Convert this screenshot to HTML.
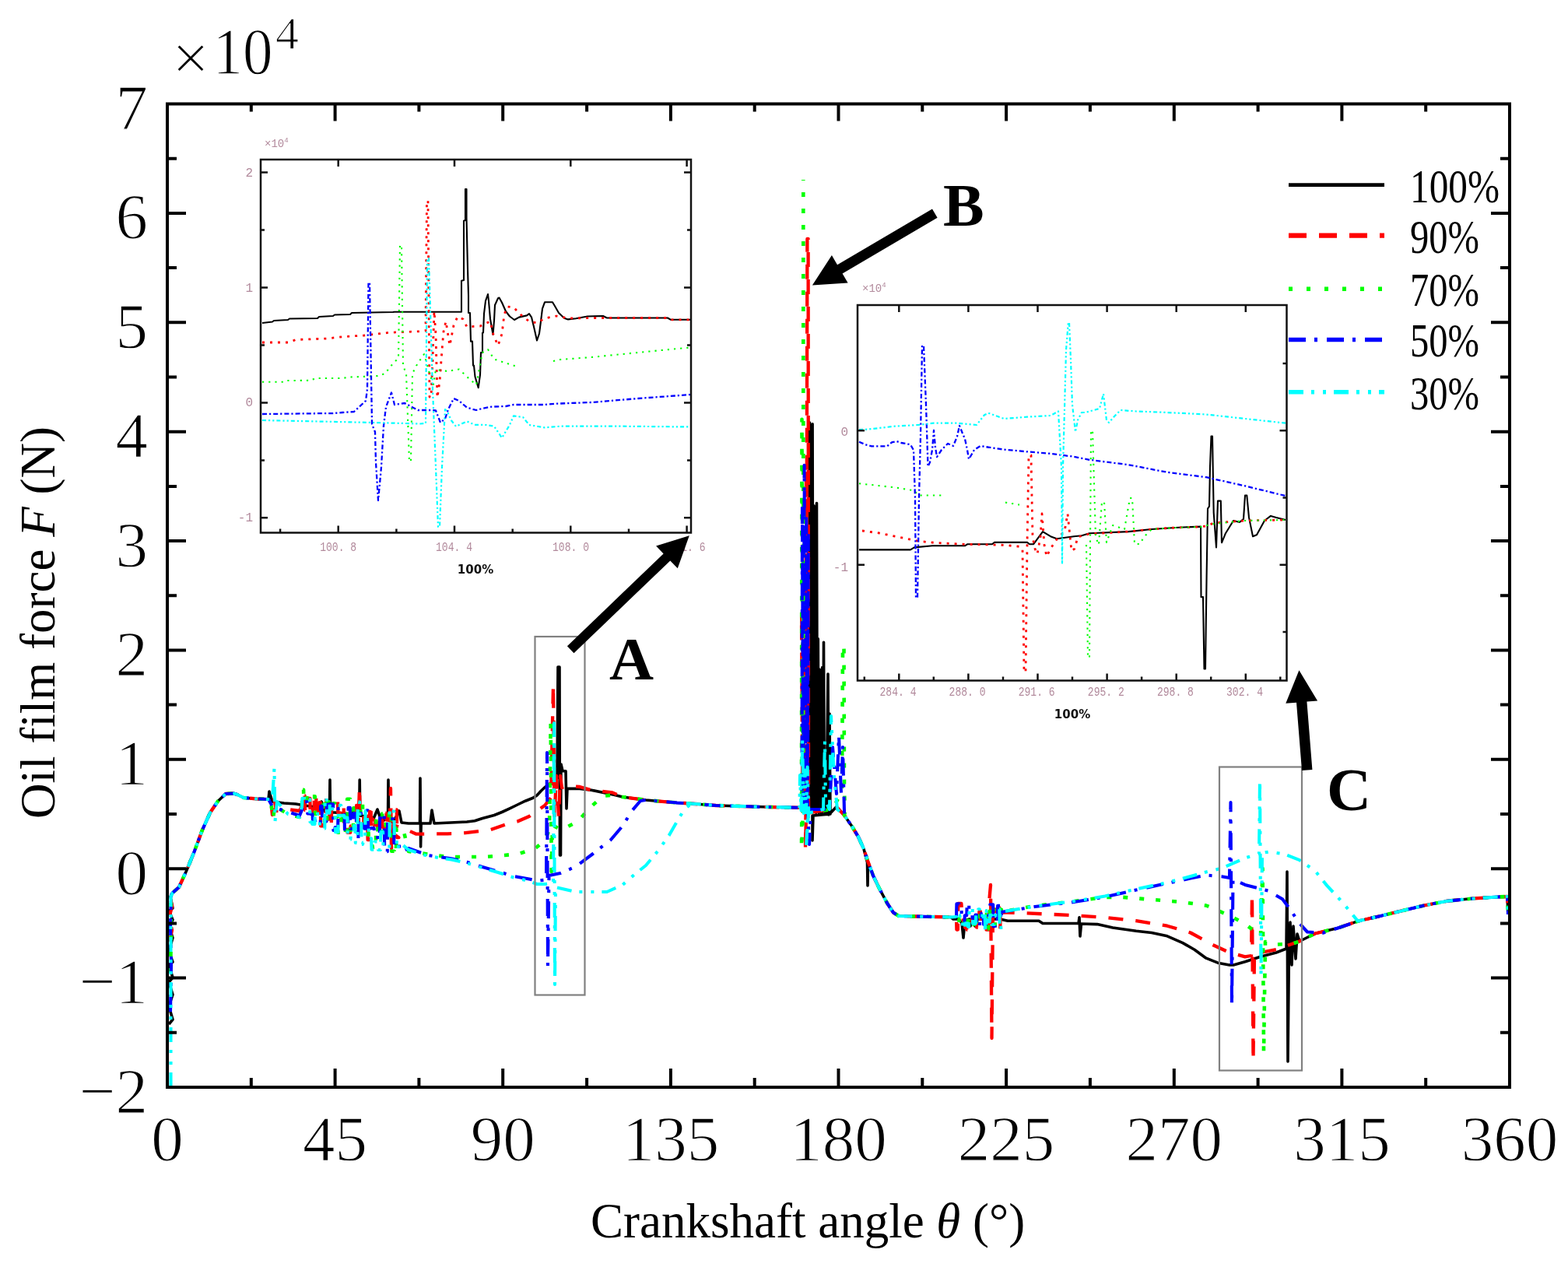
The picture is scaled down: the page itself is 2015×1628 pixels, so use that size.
<!DOCTYPE html><html><head><meta charset="utf-8"><title>Oil film force vs crankshaft angle</title>
<style>html,body{margin:0;padding:0;background:#fff;}svg{display:block;}</style></head><body>
<svg width="2015" height="1628" viewBox="0 0 2015 1628">
<rect x="0" y="0" width="2015" height="1628" fill="#fff"/>
<defs><clipPath id="cm"><rect x="215" y="133.5" width="1725" height="1263.5"/></clipPath><clipPath id="ca"><rect x="335" y="205" width="553" height="479.5"/></clipPath><clipPath id="cc"><rect x="1102" y="392" width="551.5" height="482.5"/></clipPath></defs>
<g clip-path="url(#cm)" stroke-linecap="butt">
<path d="M217.0,1316.0 L222.0,1310.0 L217.0,1293.0 L222.0,1278.0 L217.0,1262.0 L222.0,1256.0 L217.0,1240.0 L222.0,1236.0 L217.0,1222.0 L222.0,1205.0 L217.0,1190.0 L222.0,1182.0 L217.0,1170.0 L222.0,1167.0 L219.0,1152.0 L222.0,1147.0 L230.0,1140.0 L240.0,1118.0 L250.0,1093.4 L260.0,1066.4 L270.0,1044.3 L280.0,1029.5 L290.0,1020.0 L300.0,1019.5 L305.0,1021.0 L313.0,1025.0 L330.0,1026.5 L345.0,1027.0 L346.0,1017.0 L350.0,1030.0 L365.0,1032.0 L380.0,1033.0 L392.0,1035.0 L405.0,1037.0 L410.0,1040.0 L413.0,1030.0 L418.0,1043.0 L423.5,1042.0 L424.0,1002.0 L424.6,1044.0 L430.0,1044.0 L450.0,1045.7 L455.0,1040.0 L460.0,1047.0 L461.7,1047.0 L462.2,1002.0 L462.8,1048.0 L470.0,1049.0 L480.0,1052.0 L485.0,1040.0 L490.0,1055.0 L498.5,1052.0 L499.0,1002.0 L499.6,1054.0 L505.0,1057.0 L513.0,1042.0 L516.0,1057.0 L525.0,1058.0 L539.5,1058.0 L540.0,1000.0 L540.6,1088.0 L541.2,1058.0 L553.0,1058.0 L555.0,1041.0 L558.0,1058.0 L600.0,1056.0 L610.0,1054.7 L620.0,1051.5 L635.0,1047.5 L645.0,1043.5 L655.0,1038.8 L665.0,1034.0 L675.0,1029.2 L685.0,1025.3 L690.0,1022.0 L695.0,1016.5 L700.0,1011.8 L705.0,1007.8 L712.0,1004.0 L716.0,1000.0 L717.0,857.0 L719.0,857.0 L719.5,1099.0 L720.5,1099.0 L721.0,982.0 L723.0,990.7 L727.0,990.7 L728.0,1039.0 L729.0,1013.4 L745.0,1013.4 L760.0,1015.3 L790.0,1021.4 L800.0,1024.0 L830.0,1028.0 L870.0,1031.5 L880.0,1032.0 L920.0,1035.0 L980.0,1036.8 L1025.0,1037.7 L1040.0,1038.0 L1040.5,543.0 L1041.4,1042.5 L1042.3,557.7 L1043.2,1041.7 L1044.1,544.7 L1045.0,1042.7 L1045.9,649.8 L1046.8,1042.1 L1047.7,666.3 L1048.6,1044.3 L1049.5,646.5 L1050.4,1040.4 L1051.3,820.9 L1052.2,1044.5 L1053.1,860.1 L1054.0,1038.3 L1054.9,878.8 L1055.8,1045.7 L1056.7,857.5 L1057.6,1042.9 L1058.5,825.2 L1059.4,1038.1 L1060.0,1044.0 L1062.0,1046.0 L1064.0,866.0 L1065.0,1047.0 L1066.0,917.0 L1067.0,1046.0 L1044.0,1048.0 L1044.0,1080.0 L1045.0,1048.0 L1066.0,1046.0 L1075.0,1036.6 L1085.0,1047.6 L1095.0,1062.0 L1103.0,1075.3 L1110.0,1090.8 L1114.5,1108.0 L1115.0,1138.0 L1115.5,1108.0 L1115.0,1106.0 L1122.0,1125.0 L1130.0,1141.6 L1140.0,1160.4 L1148.0,1172.6 L1155.0,1177.0 L1222.0,1178.5 L1225.0,1181.0 L1232.0,1181.0 L1236.0,1186.0 L1238.0,1205.0 L1240.0,1183.0 L1246.0,1181.0 L1247.0,1190.0 L1248.0,1181.0 L1252.0,1181.0 L1253.0,1190.0 L1254.0,1181.0 L1285.0,1181.0 L1295.0,1183.2 L1335.0,1183.2 L1340.0,1186.5 L1386.0,1186.5 L1387.0,1178.8 L1388.0,1203.0 L1389.5,1187.0 L1410.0,1187.6 L1430.0,1192.0 L1460.0,1196.3 L1480.0,1198.5 L1500.0,1202.8 L1520.0,1211.6 L1535.0,1220.3 L1550.0,1231.2 L1565.0,1237.2 L1580.0,1239.9 L1585.0,1239.9 L1600.0,1235.8 L1620.0,1229.3 L1640.0,1224.0 L1653.0,1219.0 L1654.0,1120.0 L1655.0,1364.0 L1656.5,1218.0 L1658.0,1185.0 L1660.0,1240.0 L1662.0,1190.0 L1665.0,1232.0 L1667.0,1200.0 L1670.0,1209.5 L1690.0,1199.5 L1720.0,1192.3 L1745.0,1183.6 L1770.0,1177.9 L1800.0,1170.7 L1830.0,1163.5 L1860.0,1157.7 L1890.0,1154.8 L1920.0,1152.7 L1937.0,1152.0 L1938.0,1175.0" fill="none" stroke="#000" stroke-width="3.6" stroke-linejoin="round"/>
<path d="M218.0,1210.0 L221.0,1195.0 L217.0,1180.0 L221.0,1165.0 L218.0,1150.0 L222.0,1147.0 L230.0,1140.0 L240.0,1118.0 L250.0,1093.4 L260.0,1066.4 L270.0,1044.3 L280.0,1029.5 L290.0,1020.0 L300.0,1019.5 L305.0,1021.0 L313.0,1025.0 L330.0,1026.5 L345.0,1027.0 L348.0,1030.0 L350.0,1047.0 L352.0,1024.0 L355.0,1042.0 L370.0,1040.0 L385.0,1042.0 L388.0,1035.0 L388.4,1022.5 L391.6,1022.5 L392.0,1041.0 L394.5,1041.0 L394.9,1025.9 L398.4,1025.9 L398.8,1049.7 L401.4,1049.7 L401.8,1039.1 L403.6,1039.1 L404.0,1020.4 L406.2,1020.4 L406.6,1043.7 L408.0,1043.7 L408.4,1052.3 L410.1,1052.3 L410.5,1031.1 L411.8,1031.1 L412.2,1061.4 L415.5,1061.4 L415.9,1057.5 L418.8,1057.5 L419.2,1024.6 L421.3,1024.6 L421.7,1043.8 L423.2,1043.8 L423.6,1062.7 L425.8,1062.7 L426.2,1030.6 L429.7,1030.6 L430.1,1030.0 L434.0,1030.0 L434.4,1044.6 L437.2,1044.6 L437.6,1040.5 L440.1,1040.5 L440.5,1034.4 L441.7,1034.4 L442.1,1064.1 L443.9,1064.1 L444.3,1061.0 L446.1,1061.0 L446.5,1069.8 L450.2,1069.8 L450.6,1061.5 L454.0,1061.5 L454.4,1054.7 L457.7,1054.7 L458.1,1034.9 L460.7,1034.9 L461.1,1067.8 L462.8,1067.8 L463.2,1072.9 L466.9,1072.9 L467.3,1050.3 L469.5,1050.3 L469.9,1052.9 L472.2,1052.9 L472.6,1079.2 L474.8,1079.2 L475.2,1034.2 L476.6,1034.2 L477.0,1067.5 L481.1,1067.5 L481.5,1058.0 L484.1,1058.0 L484.5,1061.2 L487.8,1061.2 L488.2,1045.9 L491.1,1045.9 L491.5,1063.0 L494.5,1063.0 L494.9,1044.8 L496.5,1044.8 L496.9,1053.6 L500.8,1053.6 L501.2,1054.2 L504.1,1054.2 L504.5,1052.4 L505.9,1052.4 L506.3,1040.5 L509.8,1040.5 L510.2,1076.2 L512.5,1076.2 L461.0,1040.0 L462.0,1012.0 L463.0,1060.0 L501.0,1050.0 L502.0,1013.0 L503.0,1090.0 L505.0,1060.0 L520.0,1065.0 L535.0,1071.7 L575.0,1071.3 L590.0,1071.0 L615.0,1068.2 L630.0,1066.2 L650.0,1059.4 L665.0,1055.5 L680.0,1049.0 L690.0,1042.0 L700.0,1035.0 L708.0,1025.0 L711.0,880.0 L712.5,1050.0 L715.0,997.0 L718.0,1049.0 L720.0,997.0 L722.0,1012.0 L730.0,1009.8 L745.0,1011.0 L760.0,1015.3 L787.0,1018.4 L800.0,1024.0 L830.0,1028.0 L870.0,1031.5 L880.0,1032.0 L920.0,1035.0 L980.0,1036.8 L1025.0,1037.7 L1030.0,1038.0 L1036.0,1040.0 L1037.4,307.0 L1038.6,307.0 L1039.0,1040.0 L1030.0,789.8 L1031.5,1046.3 L1033.0,866.6 L1034.5,1042.1 L1036.0,604.3 L1037.5,1044.0 L1039.0,709.6 L1035.0,1090.0 L1036.0,1045.0 L1066.0,1040.0 L1075.0,1036.6 L1085.0,1047.6 L1095.0,1062.0 L1103.0,1075.3 L1110.0,1090.8 L1115.0,1106.0 L1122.0,1125.0 L1130.0,1141.6 L1140.0,1160.4 L1148.0,1172.6 L1155.0,1177.0 L1222.0,1178.5 L1229.0,1178.0 L1229.4,1194.5 L1230.9,1194.5 L1231.3,1160.9 L1235.4,1160.9 L1235.8,1166.6 L1237.3,1166.6 L1237.7,1183.5 L1239.8,1183.5 L1240.2,1192.0 L1242.0,1192.0 L1242.4,1194.5 L1244.5,1194.5 L1244.9,1181.6 L1248.8,1181.6 L1249.2,1184.7 L1253.0,1184.7 L1253.4,1185.5 L1254.7,1185.5 L1255.1,1191.7 L1258.0,1191.7 L1258.4,1171.2 L1260.0,1171.2 L1260.4,1190.6 L1263.3,1190.6 L1263.7,1193.8 L1267.1,1193.8 L1267.5,1194.6 L1270.3,1194.6 L1270.7,1185.1 L1273.6,1185.1 L1274.0,1169.3 L1278.0,1169.3 L1278.4,1171.2 L1281.8,1171.2 L1282.2,1194.4 L1285.3,1194.4 L1285.7,1165.1 L1289.3,1165.1 L1270.0,1172.0 L1273.0,1137.0 L1274.5,1334.0 L1276.0,1172.0 L1285.0,1172.3 L1320.0,1173.4 L1380.0,1176.2 L1420.0,1178.8 L1460.0,1183.2 L1500.0,1189.7 L1530.0,1198.5 L1550.0,1209.4 L1560.0,1214.8 L1580.0,1224.0 L1600.0,1229.3 L1608.0,1228.0 L1609.0,1150.0 L1610.5,1363.0 L1612.0,1226.0 L1620.0,1224.0 L1640.0,1220.0 L1660.0,1213.0 L1670.0,1209.5 L1690.0,1199.5 L1720.0,1192.3 L1745.0,1183.6 L1770.0,1177.9 L1800.0,1170.7 L1830.0,1163.5 L1860.0,1157.7 L1890.0,1154.8 L1920.0,1152.7 L1937.0,1152.0 L1938.0,1175.0" fill="none" stroke="#ff0000" stroke-width="4.3" stroke-dasharray="19 16" stroke-linejoin="round"/>
<path d="M219.0,1250.0 L220.0,1200.0 L219.5,1152.0 L222.0,1147.0 L230.0,1140.0 L240.0,1118.0 L250.0,1093.4 L260.0,1066.4 L270.0,1044.3 L280.0,1029.5 L290.0,1020.0 L300.0,1019.5 L305.0,1021.0 L313.0,1025.0 L330.0,1026.5 L345.0,1027.0 L348.0,1030.0 L351.0,1052.0 L353.0,1036.0 L370.0,1046.0 L385.0,1050.0 L388.0,1033.8 L388.4,1014.8 L390.1,1014.8 L390.5,1030.1 L394.1,1030.1 L394.5,1021.1 L396.2,1021.1 L396.6,1025.5 L400.5,1025.5 L400.9,1023.4 L404.7,1023.4 L405.1,1045.9 L406.8,1045.9 L407.2,1041.4 L410.1,1041.4 L410.5,1037.3 L415.2,1037.3 L415.6,1024.8 L416.9,1024.8 L417.3,1062.1 L420.0,1062.1 L420.4,1030.3 L422.8,1030.3 L423.2,1038.4 L427.8,1038.4 L428.2,1032.4 L430.2,1032.4 L430.6,1050.7 L433.8,1050.7 L434.2,1069.7 L438.3,1069.7 L438.7,1041.8 L440.7,1041.8 L441.1,1066.7 L445.8,1066.7 L446.2,1026.7 L450.0,1026.7 L450.4,1072.0 L453.9,1072.0 L454.3,1038.3 L458.3,1038.3 L458.7,1067.7 L460.7,1067.7 L461.1,1063.6 L463.1,1063.6 L463.5,1030.8 L465.9,1030.8 L466.3,1048.1 L469.0,1048.1 L469.4,1066.9 L473.5,1066.9 L473.9,1086.9 L478.6,1086.9 L479.0,1091.0 L482.9,1091.0 L483.3,1051.0 L485.2,1051.0 L485.6,1071.0 L488.8,1071.0 L489.2,1075.2 L490.8,1075.2 L491.2,1045.5 L495.6,1045.5 L496.0,1072.6 L499.7,1072.6 L500.1,1040.7 L502.8,1040.7 L503.2,1093.8 L506.7,1093.8 L507.1,1098.6 L509.0,1098.6 L509.4,1064.4 L513.5,1064.4 L513.9,1063.8 L517.8,1063.8 L525.0,1094.0 L575.0,1101.0 L604.0,1101.0 L625.0,1101.0 L648.0,1099.0 L667.0,1097.0 L688.0,1090.0 L700.0,1080.0 L706.0,1066.0 L707.7,929.0 L708.7,1120.0 L710.0,1060.0 L720.0,1066.0 L730.0,1062.0 L743.0,1055.0 L758.0,1038.0 L775.0,1022.7 L790.0,1021.4 L800.0,1024.0 L830.0,1028.0 L870.0,1031.5 L880.0,1032.0 L920.0,1035.0 L980.0,1036.8 L1025.0,1037.7 L1031.5,1038.0 L1030.0,1040.0 L1030.5,538.7 L1031.7,1042.7 L1032.9,651.6 L1030.0,1090.0 L1032.0,1045.0 L1070.0,1040.0 L1082.0,1016.0 L1083.0,829.5 L1084.5,829.5 L1085.0,1016.0 L1086.0,1043.0 L1085.0,1047.6 L1095.0,1062.0 L1103.0,1075.3 L1110.0,1090.8 L1115.0,1106.0 L1122.0,1125.0 L1130.0,1141.6 L1140.0,1160.4 L1148.0,1172.6 L1155.0,1177.0 L1222.0,1178.5 L1229.0,1178.0 L1229.4,1180.5 L1232.4,1180.5 L1232.8,1189.4 L1234.7,1189.4 L1235.1,1183.5 L1238.9,1183.5 L1239.3,1192.7 L1241.0,1192.7 L1241.4,1183.5 L1244.3,1183.5 L1244.7,1178.1 L1248.7,1178.1 L1249.1,1179.0 L1251.5,1179.0 L1251.9,1194.0 L1255.0,1194.0 L1255.4,1170.8 L1257.4,1170.8 L1257.8,1177.9 L1259.0,1177.9 L1259.4,1181.9 L1262.7,1181.9 L1263.1,1175.3 L1266.8,1175.3 L1267.2,1193.4 L1270.0,1193.4 L1270.4,1184.5 L1271.8,1184.5 L1272.2,1162.0 L1276.2,1162.0 L1276.6,1170.2 L1278.4,1170.2 L1278.8,1192.3 L1282.1,1192.3 L1282.5,1164.4 L1284.6,1164.4 L1285.0,1168.7 L1286.9,1168.7 L1285.0,1172.0 L1330.0,1164.0 L1380.0,1158.0 L1420.0,1153.0 L1440.0,1152.6 L1480.0,1155.9 L1520.0,1159.2 L1550.0,1163.5 L1580.0,1176.4 L1600.0,1187.0 L1620.0,1202.9 L1622.5,1115.7 L1624.0,1353.0 L1626.0,1210.0 L1640.0,1213.5 L1660.0,1213.0 L1670.0,1209.5 L1690.0,1199.5 L1720.0,1192.3 L1745.0,1183.6 L1770.0,1177.9 L1800.0,1170.7 L1830.0,1163.5 L1860.0,1157.7 L1890.0,1154.8 L1920.0,1152.7 L1937.0,1152.0 L1938.0,1175.0" fill="none" stroke="#00ff00" stroke-width="4.6" stroke-dasharray="6 15" stroke-linejoin="round"/>
<path d="M1032.3,1030.0 L1032.3,231.0" fill="none" stroke="#00ff00" stroke-width="4.6" stroke-dasharray="6 15" stroke-linejoin="round"/>
<path d="M219.0,1300.0 L220.0,1240.0 L219.0,1190.0 L220.0,1150.0 L222.0,1147.0 L230.0,1140.0 L240.0,1118.0 L250.0,1093.4 L260.0,1066.4 L270.0,1044.3 L280.0,1029.5 L290.0,1020.0 L300.0,1019.5 L305.0,1021.0 L313.0,1025.0 L330.0,1026.5 L345.0,1027.0 L350.0,1036.0 L360.0,1040.0 L385.0,1048.0 L388.0,1040.8 L388.4,1036.8 L390.3,1036.8 L390.7,1030.3 L394.9,1030.3 L395.3,1045.5 L398.7,1045.5 L399.1,1046.0 L401.5,1046.0 L401.9,1053.2 L404.9,1053.2 L405.3,1056.2 L408.7,1056.2 L409.1,1059.7 L411.7,1059.7 L412.1,1035.9 L413.7,1035.9 L414.1,1057.3 L415.9,1057.3 L416.3,1055.4 L419.5,1055.4 L419.9,1033.6 L423.6,1033.6 L424.0,1033.2 L428.0,1033.2 L428.4,1066.9 L430.2,1066.9 L430.6,1063.1 L434.2,1063.1 L434.6,1038.8 L437.9,1038.8 L438.3,1039.4 L442.5,1039.4 L442.9,1065.7 L447.2,1065.7 L447.6,1037.8 L449.8,1037.8 L450.2,1065.0 L453.4,1065.0 L453.8,1045.2 L457.8,1045.2 L458.2,1078.9 L460.4,1078.9 L460.8,1045.1 L464.1,1045.1 L464.5,1059.2 L467.8,1059.2 L468.2,1064.7 L470.7,1064.7 L471.1,1041.2 L472.7,1041.2 L473.1,1064.5 L476.6,1064.5 L477.0,1064.0 L480.6,1064.0 L481.0,1071.3 L485.0,1071.3 L485.4,1078.9 L487.7,1078.9 L488.1,1050.7 L489.5,1050.7 L489.9,1045.4 L493.8,1045.4 L494.2,1094.3 L497.8,1094.3 L498.2,1050.7 L501.6,1050.7 L502.0,1052.2 L506.0,1052.2 L506.4,1083.2 L510.0,1083.2 L510.4,1080.4 L512.9,1080.4 L513.3,1093.8 L517.6,1093.8 L525.0,1090.0 L550.0,1099.0 L580.0,1103.3 L600.0,1107.7 L620.0,1114.0 L640.0,1119.7 L660.0,1126.0 L680.0,1129.5 L690.0,1131.7 L702.0,1130.5 L703.0,967.0 L704.0,1241.0 L705.5,1125.0 L720.0,1122.0 L740.0,1113.5 L762.0,1097.0 L785.0,1079.0 L800.0,1061.4 L812.0,1042.0 L823.0,1029.0 L830.0,1028.0 L870.0,1031.5 L880.0,1032.0 L920.0,1035.0 L980.0,1036.8 L1025.0,1037.7 L1030.5,1038.0 L1031.0,649.2 L1032.3,1036.2 L1033.6,597.8 L1034.9,1037.8 L1036.2,662.8 L1037.5,1041.4 L1038.8,684.8 L1038.0,1040.0 L1040.0,1085.0 L1042.0,1040.0 L1066.0,1040.0 L1070.0,960.0 L1075.0,1020.0 L1078.0,945.0 L1081.0,1020.0 L1083.0,960.0 L1085.0,1043.0 L1085.0,1047.6 L1095.0,1062.0 L1103.0,1075.3 L1110.0,1090.8 L1115.0,1106.0 L1122.0,1125.0 L1130.0,1141.6 L1140.0,1160.4 L1148.0,1172.6 L1155.0,1177.0 L1222.0,1178.5 L1229.0,1178.0 L1229.4,1161.4 L1232.6,1161.4 L1233.0,1165.2 L1235.5,1165.2 L1235.9,1184.2 L1239.4,1184.2 L1239.8,1176.3 L1242.3,1176.3 L1242.7,1160.7 L1245.1,1160.7 L1245.5,1173.4 L1249.2,1173.4 L1249.6,1179.7 L1253.0,1179.7 L1253.4,1175.6 L1255.0,1175.6 L1255.4,1190.6 L1259.0,1190.6 L1259.4,1173.5 L1260.7,1173.5 L1261.1,1178.4 L1263.7,1178.4 L1264.1,1187.8 L1267.0,1187.8 L1267.4,1178.2 L1270.3,1178.2 L1270.7,1173.6 L1271.9,1173.6 L1272.3,1162.2 L1276.2,1162.2 L1276.6,1190.2 L1278.6,1190.2 L1279.0,1192.0 L1281.7,1192.0 L1282.1,1163.7 L1285.7,1163.7 L1286.1,1181.0 L1290.0,1181.0 L1285.0,1172.3 L1330.0,1165.0 L1380.0,1159.0 L1420.0,1152.5 L1460.0,1143.5 L1500.0,1135.0 L1530.0,1128.5 L1550.0,1124.5 L1570.0,1126.3 L1580.0,1128.0 L1581.5,1031.0 L1583.0,1291.0 L1584.5,1130.0 L1600.0,1136.9 L1630.0,1144.7 L1648.0,1155.3 L1660.0,1171.1 L1668.0,1184.3 L1680.0,1197.5 L1700.0,1198.8 L1720.0,1192.3 L1745.0,1183.6 L1770.0,1177.9 L1800.0,1170.7 L1830.0,1163.5 L1860.0,1157.7 L1890.0,1154.8 L1920.0,1152.7 L1937.0,1152.0 L1938.0,1175.0" fill="none" stroke="#0000ff" stroke-width="4.1" stroke-dasharray="22 11 4 12" stroke-linejoin="round"/>
<path d="M219.5,1397.0 L219.5,1152.0 L222.0,1147.0 L230.0,1140.0 L240.0,1118.0 L250.0,1093.4 L260.0,1066.4 L270.0,1044.3 L280.0,1029.5 L290.0,1020.0 L300.0,1019.5 L305.0,1021.0 L313.0,1025.0 L330.0,1026.5 L345.0,1027.0 L350.0,1027.0 L352.5,987.0 L353.5,1055.0 L356.0,1030.0 L370.0,1046.0 L385.0,1050.0 L388.0,1035.8 L388.4,1025.8 L391.0,1025.8 L391.4,1023.2 L395.0,1023.2 L395.4,1027.1 L398.1,1027.1 L398.5,1056.3 L400.8,1056.3 L401.2,1059.0 L404.5,1059.0 L404.9,1043.1 L407.9,1043.1 L408.3,1045.9 L410.5,1045.9 L410.9,1064.1 L413.2,1064.1 L413.6,1064.6 L417.3,1064.6 L417.7,1024.3 L419.5,1024.3 L419.9,1044.6 L423.5,1044.6 L423.9,1032.0 L426.8,1032.0 L427.2,1041.5 L430.7,1041.5 L431.1,1069.1 L434.5,1069.1 L434.9,1034.9 L438.2,1034.9 L438.6,1047.9 L442.3,1047.9 L442.7,1050.6 L446.5,1050.6 L446.9,1078.7 L450.4,1078.7 L450.8,1071.9 L454.4,1071.9 L454.8,1060.8 L456.4,1060.8 L456.8,1083.0 L459.3,1083.0 L459.7,1030.6 L462.1,1030.6 L462.5,1053.5 L464.2,1053.5 L464.6,1084.9 L466.1,1084.9 L466.5,1082.5 L469.2,1082.5 L469.6,1042.0 L471.8,1042.0 L472.2,1058.5 L473.6,1058.5 L474.0,1077.4 L477.1,1077.4 L477.5,1091.7 L481.1,1091.7 L481.5,1081.5 L485.6,1081.5 L486.0,1092.0 L489.0,1092.0 L489.4,1068.8 L492.1,1068.8 L492.5,1087.0 L496.4,1087.0 L496.8,1089.6 L500.4,1089.6 L500.8,1038.3 L503.1,1038.3 L503.5,1042.5 L506.4,1042.5 L506.8,1074.3 L509.6,1074.3 L510.0,1091.8 L511.7,1091.8 L512.1,1083.5 L515.0,1083.5 L525.0,1092.0 L550.0,1100.0 L580.0,1104.5 L600.0,1109.0 L620.0,1115.0 L640.0,1121.0 L660.0,1127.5 L680.0,1132.0 L690.0,1136.0 L700.0,1136.0 L711.0,1135.0 L712.0,929.0 L713.0,1265.0 L714.0,1140.0 L740.0,1146.0 L780.0,1146.0 L800.0,1137.0 L815.0,1124.0 L830.0,1112.0 L845.0,1094.0 L860.0,1073.0 L870.0,1055.5 L880.0,1039.0 L887.0,1034.0 L880.0,1032.0 L920.0,1035.0 L980.0,1036.8 L1025.0,1037.7 L1027.5,1038.0 L1028.0,996.1 L1029.6,1041.4 L1031.2,950.6 L1032.8,1044.9 L1034.4,989.5 L1036.0,1044.3 L1037.6,985.5 L1039.2,1042.3 L1036.0,1090.0 L1038.0,1045.0 L1058.0,1040.0 L1060.0,952.0 L1061.0,1030.0 L1066.0,1040.0 L1068.0,920.0 L1072.0,1000.0 L1076.0,1040.0 L1085.0,1047.6 L1095.0,1062.0 L1103.0,1075.3 L1110.0,1090.8 L1115.0,1106.0 L1122.0,1125.0 L1130.0,1141.6 L1140.0,1160.4 L1148.0,1172.6 L1155.0,1177.0 L1222.0,1178.5 L1229.0,1178.0 L1229.4,1182.2 L1233.2,1182.2 L1233.6,1176.4 L1236.8,1176.4 L1237.2,1193.7 L1239.9,1193.7 L1240.3,1186.4 L1243.6,1186.4 L1244.0,1190.9 L1245.2,1190.9 L1245.6,1166.1 L1249.7,1166.1 L1250.1,1186.9 L1251.9,1186.9 L1252.3,1186.7 L1253.9,1186.7 L1254.3,1173.0 L1256.8,1173.0 L1257.2,1168.2 L1258.7,1168.2 L1259.1,1178.3 L1262.1,1178.3 L1262.5,1171.5 L1265.6,1171.5 L1266.0,1195.4 L1267.3,1195.4 L1267.7,1170.0 L1269.0,1170.0 L1269.4,1184.4 L1271.8,1184.4 L1272.2,1175.8 L1274.0,1175.8 L1274.4,1188.0 L1277.8,1188.0 L1278.2,1176.1 L1281.8,1176.1 L1282.2,1168.3 L1284.3,1168.3 L1284.7,1194.5 L1286.5,1194.5 L1285.0,1172.0 L1330.0,1164.5 L1380.0,1158.0 L1420.0,1151.5 L1460.0,1142.5 L1500.0,1134.0 L1530.0,1126.0 L1550.0,1120.5 L1570.0,1115.7 L1600.0,1102.5 L1618.0,1097.0 L1619.0,1003.6 L1620.5,1254.0 L1622.0,1096.0 L1630.0,1094.6 L1650.0,1097.3 L1670.0,1105.1 L1690.0,1118.9 L1705.0,1137.6 L1725.0,1159.2 L1738.0,1175.0 L1745.0,1183.6 L1770.0,1177.9 L1800.0,1170.7 L1830.0,1163.5 L1860.0,1157.7 L1890.0,1154.8 L1920.0,1152.7 L1937.0,1152.0 L1938.0,1175.0" fill="none" stroke="#00ffff" stroke-width="4.1" stroke-dasharray="19 10 4 11 4 10" stroke-linejoin="round"/>
</g>
<g stroke="#000" stroke-width="4" fill="none">
<rect x="215" y="133.5" width="1725" height="1263.5"/>
<path d="M322.8,1397.0v-12M322.8,133.5v10M430.6,1397.0v-24M430.6,133.5v22M538.4,1397.0v-12M538.4,133.5v10M646.2,1397.0v-24M646.2,133.5v22M754.1,1397.0v-12M754.1,133.5v10M861.9,1397.0v-24M861.9,133.5v22M969.7,1397.0v-12M969.7,133.5v10M1077.5,1397.0v-24M1077.5,133.5v22M1185.3,1397.0v-12M1185.3,133.5v10M1293.1,1397.0v-24M1293.1,133.5v22M1400.9,1397.0v-12M1400.9,133.5v10M1508.8,1397.0v-24M1508.8,133.5v22M1616.6,1397.0v-12M1616.6,133.5v10M1724.4,1397.0v-24M1724.4,133.5v22M1832.2,1397.0v-12M1832.2,133.5v10M215.0,1326.8h12M1940.0,1326.8h-12M215.0,1256.6h24M1940.0,1256.6h-24M215.0,1186.4h12M1940.0,1186.4h-12M215.0,1116.2h24M1940.0,1116.2h-24M215.0,1046.0h12M1940.0,1046.0h-12M215.0,975.8h24M1940.0,975.8h-24M215.0,905.6h12M1940.0,905.6h-12M215.0,835.4h24M1940.0,835.4h-24M215.0,765.2h12M1940.0,765.2h-12M215.0,695.1h24M1940.0,695.1h-24M215.0,624.9h12M1940.0,624.9h-12M215.0,554.7h24M1940.0,554.7h-24M215.0,484.5h12M1940.0,484.5h-12M215.0,414.3h24M1940.0,414.3h-24M215.0,344.1h12M1940.0,344.1h-12M215.0,273.9h24M1940.0,273.9h-24M215.0,203.7h12M1940.0,203.7h-12"/>
</g>
<g font-family="Liberation Serif, serif" font-size="83" fill="#000" stroke="#fff" stroke-width="1.3">
<text x="215.0" y="1491" text-anchor="middle">0</text>
<text x="430.6" y="1491" text-anchor="middle">45</text>
<text x="646.2" y="1491" text-anchor="middle">90</text>
<text x="861.9" y="1491" text-anchor="middle">135</text>
<text x="1077.5" y="1491" text-anchor="middle">180</text>
<text x="1293.1" y="1491" text-anchor="middle">225</text>
<text x="1508.8" y="1491" text-anchor="middle">270</text>
<text x="1724.4" y="1491" text-anchor="middle">315</text>
<text x="1940.0" y="1491" text-anchor="middle">360</text>
<text x="190" y="1429.5" text-anchor="end">−2</text>
<text x="190" y="1289.1" text-anchor="end">−1</text>
<text x="190" y="1148.7" text-anchor="end">0</text>
<text x="190" y="1008.3" text-anchor="end">1</text>
<text x="190" y="867.9" text-anchor="end">2</text>
<text x="190" y="727.6" text-anchor="end">3</text>
<text x="190" y="587.2" text-anchor="end">4</text>
<text x="190" y="446.8" text-anchor="end">5</text>
<text x="190" y="306.4" text-anchor="end">6</text>
<text x="190" y="166.0" text-anchor="end">7</text>
</g>
<g font-family="Liberation Serif, serif" fill="#000" stroke="#fff" stroke-width="1.3"><text x="221" y="103" font-size="85">×</text><text x="273.5" y="95" font-size="85" textLength="77" lengthAdjust="spacingAndGlyphs">10</text><text x="354" y="63" font-size="60">4</text></g>
<text x="759" y="1590" font-family="Liberation Serif, serif" font-size="63" fill="#000">Crankshaft angle <tspan font-style="italic">θ</tspan> (°)</text>
<text transform="translate(70,800) rotate(-90)" text-anchor="middle" font-family="Liberation Serif, serif" font-size="63" fill="#000">Oil film force <tspan font-style="italic">F</tspan> (N)</text>
<path d="M1656,237.6H1779" stroke="#000" stroke-width="4.6" fill="none"/>
<text x="1812" y="259.6" font-family="Liberation Serif, serif" font-size="61" textLength="115" lengthAdjust="spacingAndGlyphs" fill="#000">100%</text>
<path d="M1656,302.7H1779" stroke="#ff0000" stroke-width="6.2" stroke-dasharray="23 16" fill="none"/>
<text x="1812" y="324.7" font-family="Liberation Serif, serif" font-size="61" textLength="89" lengthAdjust="spacingAndGlyphs" fill="#000">90%</text>
<path d="M1656,371.2H1779" stroke="#00ff00" stroke-width="5.5" stroke-dasharray="5 18" fill="none"/>
<text x="1812" y="393.2" font-family="Liberation Serif, serif" font-size="61" textLength="89" lengthAdjust="spacingAndGlyphs" fill="#000">70%</text>
<path d="M1656,436.4H1779" stroke="#0000ff" stroke-width="5.5" stroke-dasharray="22 11 4 12" fill="none"/>
<text x="1812" y="458.4" font-family="Liberation Serif, serif" font-size="61" textLength="89" lengthAdjust="spacingAndGlyphs" fill="#000">50%</text>
<path d="M1656,503.8H1779" stroke="#00ffff" stroke-width="5.5" stroke-dasharray="19 10 4 11 4 10" fill="none"/>
<text x="1812" y="525.8" font-family="Liberation Serif, serif" font-size="61" textLength="89" lengthAdjust="spacingAndGlyphs" fill="#000">30%</text>
<rect x="687.5" y="818" width="64" height="460.5" fill="none" stroke="#808080" stroke-width="2.2"/>
<rect x="1567" y="985.5" width="106" height="390" fill="none" stroke="#808080" stroke-width="2.2"/>
<rect x="335" y="205" width="553" height="479.5" fill="#fff"/>
<g clip-path="url(#ca)">
<path d="M337.0,415.0 L350.0,413.5 L352.0,412.0 L370.0,411.0 L372.0,409.5 L408.0,409.0 L410.0,407.0 L428.0,406.0 L430.0,404.5 L450.0,404.0 L452.0,402.0 L505.0,401.0 L507.0,400.8 L593.0,400.8 L593.0,360.8 L596.0,360.0 L596.0,283.8 L598.0,283.0 L598.0,243.0 L599.5,243.0 L599.5,280.0 L601.0,345.0 L602.0,380.0 L602.0,402.0 L604.0,402.0 L605.0,438.6 L607.0,438.6 L608.0,469.6 L609.0,469.6 L610.5,484.0 L614.7,498.3 L617.0,481.7 L618.0,453.0 L620.0,453.0 L620.0,427.5 L621.0,427.5 L622.0,403.2 L624.0,386.6 L627.0,378.0 L628.0,386.6 L630.0,409.9 L633.5,429.8 L635.0,412.0 L636.0,392.0 L640.0,383.3 L641.5,382.5 L645.0,388.8 L650.0,400.0 L655.0,406.5 L661.0,411.0 L667.0,407.6 L677.0,405.4 L680.0,403.2 L683.0,407.6 L686.0,419.8 L690.0,437.5 L693.0,428.6 L695.0,413.0 L697.0,396.6 L700.0,388.3 L710.0,388.3 L713.0,393.3 L718.0,402.1 L725.0,408.7 L730.0,410.4 L740.0,409.3 L755.0,406.5 L775.0,406.0 L780.0,408.5 L858.0,408.5 L862.0,410.8 L888.0,410.8" fill="none" stroke="#000" stroke-width="2.1" stroke-linejoin="round"/>
<path d="M337.0,440.0 L371.0,440.0 L380.0,436.5 L420.0,435.0 L440.0,432.7 L468.0,431.0 L500.0,427.3 L540.0,425.8 L547.0,425.0 L548.5,258.0 L550.0,258.0 L552.0,510.0 L554.0,511.0 L556.0,460.0 L558.0,400.0 L560.0,430.0 L562.0,511.0 L565.0,490.0 L568.0,450.0 L570.0,426.0 L573.0,413.0 L578.0,444.0 L583.0,418.0 L588.0,407.0 L595.0,410.0 L600.0,420.0 L617.0,419.0 L630.0,413.0 L634.0,430.0 L640.0,444.0 L645.0,429.0 L648.0,404.0 L652.0,394.0 L660.0,395.0 L670.0,405.0 L680.0,413.0 L690.0,415.0 L700.0,409.0 L715.0,406.0 L730.0,409.0 L760.0,408.5 L858.0,408.5 L862.0,410.8 L888.0,410.8" fill="none" stroke="#ff0000" stroke-width="2.8" stroke-dasharray="3 7" stroke-linejoin="round"/>
<path d="M337.0,490.7 L365.0,490.7 L368.0,489.0 L400.0,488.8 L405.0,486.0 L440.0,486.0 L450.0,484.5 L470.0,483.8 L485.0,483.0 L495.0,480.0 L500.0,473.0 L504.0,468.4 L512.0,460.0 L514.0,315.0 L516.0,315.0 L518.0,470.0 L522.0,480.0 L526.0,593.0 L528.0,593.0 L530.0,480.0 L535.0,470.0 L545.0,455.0 L552.0,480.0 L557.0,494.0 L560.0,475.0 L575.0,477.0 L590.0,474.5 L600.0,484.0 L612.0,494.6 L620.0,453.0 L627.0,449.0 L635.0,461.5 L663.0,470.6" fill="none" stroke="#00ff00" stroke-width="2.1" stroke-dasharray="2.2 6" stroke-linejoin="round"/>
<path d="M711.0,464.0 L720.0,462.0 L760.0,459.0 L800.0,455.0 L850.0,450.0 L888.0,446.5" fill="none" stroke="#00ff00" stroke-width="2.1" stroke-dasharray="2.2 6" stroke-linejoin="round"/>
<path d="M337.0,532.0 L428.0,531.0 L440.0,530.0 L455.0,529.0 L470.0,515.0 L472.0,500.0 L473.5,363.0 L475.0,363.0 L478.0,545.0 L482.0,555.0 L483.0,594.0 L486.0,643.0 L490.0,600.0 L493.0,547.0 L496.0,523.0 L503.0,504.5 L507.0,520.0 L520.0,518.0 L537.0,527.0 L555.0,527.0 L560.0,527.5 L566.0,543.0 L572.0,538.0 L576.0,526.0 L583.0,512.0 L590.0,515.0 L600.0,523.7 L612.0,527.0 L620.0,524.8 L632.0,522.6 L650.0,522.0 L660.0,520.0 L700.0,520.0 L712.0,518.8 L760.0,517.0 L820.0,512.0 L888.0,507.0" fill="none" stroke="#0000ff" stroke-width="2.3" stroke-dasharray="6 3 2.2 3" stroke-linejoin="round"/>
<path d="M337.0,540.0 L480.0,543.0 L540.0,544.5 L547.0,544.0 L549.0,332.0 L551.0,332.0 L556.0,500.0 L560.0,600.0 L563.0,677.0 L565.0,677.0 L568.0,600.0 L572.0,526.0 L575.0,529.3 L580.0,540.3 L586.0,548.0 L600.0,541.4 L610.0,545.8 L625.0,546.0 L635.0,547.7 L645.0,562.6 L655.0,546.0 L660.0,534.4 L672.0,536.0 L680.0,546.0 L700.0,549.4 L720.0,547.7 L800.0,547.7 L888.0,548.5" fill="none" stroke="#00ffff" stroke-width="2.2" stroke-dasharray="5 3 2.2 3 2.2 3" stroke-linejoin="round"/>
</g>
<rect x="335" y="205" width="553" height="479.5" fill="none" stroke="#111" stroke-width="2.5"/>
<path d="M434.7,684.5v-9M434.7,205v9M360.1,684.5v-5M584.0,684.5v-9M584.0,205v9M509.4,684.5v-5M733.3,684.5v-9M733.3,205v9M658.7,684.5v-5M882.6,684.5v-9M882.6,205v9M808.0,684.5v-5M335,665.3h9M888,665.3h-9M335,591.4h5M888,591.4h-5M335,517.4h9M888,517.4h-9M335,443.4h5M888,443.4h-5M335,369.5h9M888,369.5h-9M335,295.5h5M888,295.5h-5M335,221.6h9M888,221.6h-9" stroke="#111" stroke-width="2.5" fill="none"/>
<g font-family="Liberation Mono, DejaVu Sans Mono, monospace" font-size="16" fill="#b28a9c">
<text x="411.2" y="708" textLength="47" lengthAdjust="spacingAndGlyphs">100. 8</text>
<text x="560.0" y="708" textLength="47" lengthAdjust="spacingAndGlyphs">104. 4</text>
<text x="710.0" y="708" textLength="47" lengthAdjust="spacingAndGlyphs">108. 0</text>
<text x="859.5" y="708" textLength="47" lengthAdjust="spacingAndGlyphs">111. 6</text>
<text x="325" y="226.6" text-anchor="end">2</text>
<text x="325" y="374.5" text-anchor="end">1</text>
<text x="325" y="522.4" text-anchor="end">0</text>
<text x="325" y="670.3" text-anchor="end">-1</text>
<text x="340" y="189" font-size="14">×10<tspan font-size="9" dy="-6">4</tspan></text>
</g>
<text x="611" y="737" text-anchor="middle" font-family="DejaVu Sans, sans-serif" font-size="15" font-weight="bold" fill="#111">100%</text>
<rect x="1102" y="392" width="551.5" height="482.5" fill="#fff"/>
<g clip-path="url(#cc)">
<path d="M1104.0,706.4 L1170.0,706.4 L1175.0,703.4 L1198.0,701.3 L1240.0,701.3 L1243.0,699.3 L1275.0,699.3 L1278.0,696.9 L1320.0,696.9 L1323.0,699.3 L1328.0,699.3 L1340.0,683.1 L1350.0,689.2 L1358.0,692.2 L1380.0,689.2 L1390.0,688.2 L1400.0,685.2 L1450.0,683.1 L1480.0,680.0 L1510.0,678.0 L1543.0,676.6 L1543.5,767.3 L1546.0,767.0 L1547.5,859.5 L1549.0,859.5 L1550.6,739.9 L1552.0,653.7 L1554.0,650.7 L1555.0,600.0 L1556.5,560.5 L1558.0,560.5 L1559.7,658.8 L1563.0,703.4 L1565.0,643.6 L1568.8,643.6 L1570.0,697.3 L1575.0,685.2 L1585.0,669.0 L1593.0,671.0 L1598.0,666.9 L1600.0,636.5 L1602.3,636.5 L1605.0,664.9 L1610.0,689.2 L1615.0,687.2 L1625.0,669.0 L1633.0,662.9 L1640.0,664.9 L1652.0,668.0" fill="none" stroke="#000" stroke-width="2.1" stroke-linejoin="round"/>
<path d="M1108.0,682.0 L1130.0,685.0 L1150.0,689.2 L1170.0,693.2 L1180.0,695.3 L1200.0,697.3 L1240.0,699.3 L1290.0,700.3 L1310.0,702.3 L1314.0,705.0 L1316.0,863.5 L1318.0,863.5 L1320.0,700.0 L1322.0,585.0 L1325.0,585.0 L1327.0,690.0 L1330.0,705.0 L1333.0,712.0 L1337.0,690.0 L1339.0,660.0 L1342.0,700.0 L1345.0,715.0 L1350.0,705.0 L1360.0,690.0 L1368.0,683.0 L1372.0,660.0 L1377.0,708.0 L1381.0,705.0 L1385.0,690.0 L1400.0,686.0 L1450.0,683.0 L1480.0,680.0 L1510.0,678.0 L1540.0,677.0 L1550.0,676.0 L1560.0,672.0 L1600.0,669.0 L1652.0,668.0" fill="none" stroke="#ff0000" stroke-width="2.8" stroke-dasharray="3 7" stroke-linejoin="round"/>
<path d="M1104.0,621.3 L1150.0,626.3 L1175.0,630.4 L1180.0,636.5 L1210.0,636.5 M1292.0,645.6 L1310.0,648.6" fill="none" stroke="#00ff00" stroke-width="2.1" stroke-dasharray="2.2 6" stroke-linejoin="round"/>
<path d="M1396.0,700.0 L1398.0,845.0 L1400.0,845.0 L1402.0,553.0 L1404.0,553.0 L1408.0,690.0 L1412.0,700.0 L1416.0,645.0 L1419.0,645.0 L1422.0,697.0 L1430.0,675.0 L1445.0,680.0 L1452.0,640.0 L1455.0,640.0 L1458.0,699.0 L1465.0,699.0 L1470.0,690.0 L1480.0,680.0 L1510.0,678.0 L1543.0,677.0 L1560.0,673.0 L1600.0,669.0 L1652.0,668.0" fill="none" stroke="#00ff00" stroke-width="2.1" stroke-dasharray="2.2 6" stroke-linejoin="round"/>
<path d="M1104.0,567.7 L1112.0,571.2 L1120.0,573.4 L1140.0,573.4 L1146.0,568.4 L1152.0,567.0 L1158.0,569.0 L1170.0,571.2 L1174.0,578.3 L1176.0,640.0 L1177.0,768.0 L1179.0,768.0 L1181.0,640.0 L1183.0,560.0 L1185.0,444.0 L1187.0,444.0 L1190.0,520.0 L1192.5,599.5 L1195.0,594.0 L1198.0,578.0 L1200.0,553.0 L1202.0,575.0 L1204.0,587.0 L1210.0,578.0 L1218.0,570.0 L1225.0,573.0 L1230.0,561.0 L1233.0,547.0 L1237.0,557.0 L1240.0,564.0 L1243.0,578.0 L1245.0,590.0 L1248.0,585.0 L1252.0,578.0 L1260.0,573.0 L1275.0,575.5 L1290.0,577.6 L1320.0,580.4 L1350.0,582.8 L1380.0,586.8 L1400.0,590.8 L1450.0,597.2 L1500.0,606.8 L1550.0,613.2 L1600.0,624.4 L1652.0,637.1" fill="none" stroke="#0000ff" stroke-width="2.3" stroke-dasharray="6 3 2.2 3" stroke-linejoin="round"/>
<path d="M1104.0,552.0 L1115.0,551.7 L1150.0,547.7 L1180.0,546.0 L1200.0,543.7 L1230.0,543.7 L1255.0,546.0 L1265.0,533.3 L1270.0,530.6 L1290.0,538.0 L1320.0,535.7 L1350.0,534.0 L1360.0,528.5 L1364.0,600.0 L1365.0,723.6 L1366.0,600.0 L1370.0,450.0 L1372.8,414.3 L1374.0,414.3 L1376.0,463.0 L1378.0,520.0 L1382.0,555.0 L1385.0,539.7 L1390.0,530.0 L1395.0,530.0 L1400.0,528.5 L1413.0,525.0 L1418.0,506.0 L1422.0,540.0 L1425.0,543.0 L1432.0,535.0 L1440.0,527.0 L1460.0,528.5 L1500.0,530.0 L1550.0,532.5 L1600.0,538.0 L1652.0,543.7" fill="none" stroke="#00ffff" stroke-width="2.2" stroke-dasharray="5 3 2.2 3 2.2 3" stroke-linejoin="round"/>
</g>
<rect x="1102" y="392" width="551.5" height="482.5" fill="none" stroke="#111" stroke-width="2.5"/>
<path d="M1155.3,874.5v-9M1155.3,392v9M1110.8,874.5v-5M1244.4,874.5v-9M1244.4,392v9M1199.8,874.5v-5M1333.5,874.5v-9M1333.5,392v9M1289.0,874.5v-5M1422.6,874.5v-9M1422.6,392v9M1378.0,874.5v-5M1511.7,874.5v-9M1511.7,392v9M1467.1,874.5v-5M1600.8,874.5v-9M1600.8,392v9M1556.2,874.5v-5M1645.3,874.5v-5M1653.5,811.9h-5M1102,725.7h9M1653.5,725.7h-9M1653.5,639.5h-5M1102,553.3h9M1653.5,553.3h-9M1653.5,467.1h-5" stroke="#111" stroke-width="2.5" fill="none"/>
<g font-family="Liberation Mono, DejaVu Sans Mono, monospace" font-size="16" fill="#b28a9c">
<text x="1130.5" y="894" textLength="47" lengthAdjust="spacingAndGlyphs">284. 4</text>
<text x="1219.6" y="894" textLength="47" lengthAdjust="spacingAndGlyphs">288. 0</text>
<text x="1308.7" y="894" textLength="47" lengthAdjust="spacingAndGlyphs">291. 6</text>
<text x="1397.8" y="894" textLength="47" lengthAdjust="spacingAndGlyphs">295. 2</text>
<text x="1486.9" y="894" textLength="47" lengthAdjust="spacingAndGlyphs">298. 8</text>
<text x="1576.0" y="894" textLength="47" lengthAdjust="spacingAndGlyphs">302. 4</text>
<text x="1090" y="559.5" text-anchor="end">0</text>
<text x="1090" y="734" text-anchor="end">-1</text>
<text x="1108" y="375" font-size="14">×10<tspan font-size="9" dy="-6">4</tspan></text>
</g>
<text x="1378" y="923" text-anchor="middle" font-family="DejaVu Sans, sans-serif" font-size="15" font-weight="bold" fill="#111">100%</text>
<path d="M737.5,839.2 L861.3,720.4 L870.8,730.3 L885.8,688.2 L843.1,701.5 L852.6,711.4 L728.9,830.2Z" fill="#000"/>
<path d="M1198.0,268.6 L1076.0,340.2 L1068.9,328.1 L1043.9,366.5 L1089.6,363.4 L1082.6,351.4 L1204.6,279.8Z" fill="#000"/>
<path d="M1686.4,988.9 L1679.4,901.6 L1693.1,900.5 L1669.4,861.3 L1652.3,903.8 L1666.0,902.7 L1673.0,989.9Z" fill="#000"/>
<g font-family="Liberation Serif, serif" font-weight="bold" font-size="79" fill="#000">
<text x="783" y="873">A</text>
<text x="1212" y="290">B</text>
<text x="1705" y="1041">C</text>
</g>
</svg></body></html>
